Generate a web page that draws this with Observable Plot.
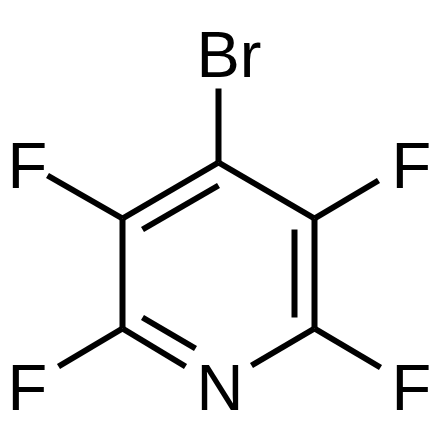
<!DOCTYPE html>
<html><head><meta charset="utf-8">
<script src="https://cdn.jsdelivr.net/npm/d3@7"></script>
<script src="https://cdn.jsdelivr.net/npm/@observablehq/plot@0.6"></script>
<style>html,body{margin:0;padding:0;background:#fff}svg{display:block}</style>
</head><body><div id="chart"></div>
<script>
const bondX1 = [218,218,218,122,122,122,122,314,314,314,314,142,294,142];
const bondY1 = [ 88,162,162,218,218,328,328,218,218,328,328,229,229,317];
const bondX2 = [218,122,314,122, 47, 58,185,314,378,251,380,218,294,195];
const bondY2 = [162,218,218,328,175,366,366,328,180,365,367,185,317,348];
const labels = ["Br","F","F","F","F","N"];
const labelX = [196,7,391,7,391,196];
const labelY = [55.5,166.5,166.5,388.5,388.5,388.5];
const bonds = bondX1.map((x1,i)=>({x1,y1:bondY1[i],x2:bondX2[i],y2:bondY2[i]}));
const atoms = labels.map((t,i)=>({t,x:labelX[i],y:labelY[i]}));
document.getElementById("chart").append(Plot.plot({
  width:440,height:440,margin:0,
  x:{domain:[0,440],range:[0,440],axis:null},
  y:{domain:[0,440],range:[0,440],axis:null},
  marks:[
    Plot.link(bonds,{x1:"x1",y1:"y1",x2:"x2",y2:"y2",stroke:"#000",strokeWidth:6,strokeLinecap:"butt"}),
    Plot.text(atoms,{x:"x",y:"y",text:"t",fontSize:65,fontFamily:"Liberation Sans",fill:"#000",textAnchor:"start"})
  ]
}));
</script></body></html>
